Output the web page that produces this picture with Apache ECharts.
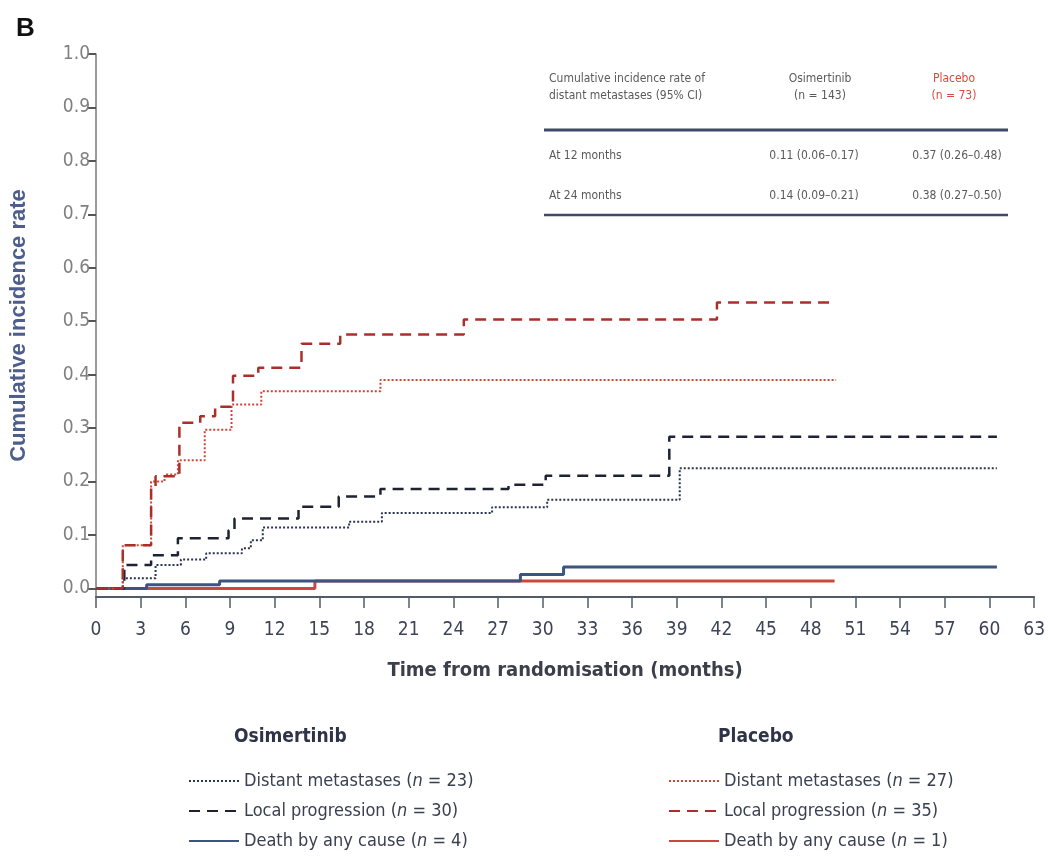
<!DOCTYPE html>
<html>
<head>
<meta charset="utf-8">
<script src="https://cdn.jsdelivr.net/npm/echarts@6/dist/echarts.min.js"></script>
<style>
html,body{margin:0;padding:0;background:#fff;}
#chart{width:1048px;height:859px;}
</style>
</head>
<body>
<div id="chart"></div>
<script>
// ---- Data ----
var xTicks = [0,3,6,9,12,15,18,21,24,27,30,33,36,39,42,45,48,51,54,57,60,63];
var yTicks = [0.0,0.1,0.2,0.3,0.4,0.5,0.6,0.7,0.8,0.9,1.0];
var yBottom = -0.016;   // axis line sits slightly below 0.0 in the reference

// Osimertinib
var osiDistT  = [0, 1.8, 4.0, 5.7, 7.4, 9.8, 10.4, 11.2, 17.0, 19.2, 26.6, 30.3, 39.2, 60.5];
var osiDistV  = [0, 0.019, 0.044, 0.054, 0.066, 0.075, 0.090, 0.114, 0.125, 0.141, 0.152, 0.166, 0.225, 0.225];
var osiLocalT = [0, 1.9, 3.7, 5.5, 8.9, 9.3, 13.6, 16.3, 19.1, 27.7, 30.2, 38.5, 60.5];
var osiLocalV = [0, 0.044, 0.062, 0.094, 0.109, 0.131, 0.153, 0.172, 0.186, 0.194, 0.211, 0.284, 0.284];
var osiDeathT = [0, 3.4, 8.3, 28.5, 31.4, 60.5];
var osiDeathV = [0, 0.007, 0.014, 0.026, 0.040, 0.040];

// Placebo
var plaDistT  = [0, 1.8, 3.7, 4.6, 5.5, 7.3, 9.1, 11.1, 19.1, 49.7];
var plaDistV  = [0, 0.081, 0.200, 0.213, 0.240, 0.297, 0.344, 0.369, 0.390, 0.390];
var plaLocalT = [0, 1.8, 3.7, 4.0, 5.6, 7.0, 8.0, 9.2, 10.9, 13.8, 16.4, 24.7, 41.7, 49.7];
var plaLocalV = [0, 0.081, 0.190, 0.210, 0.310, 0.322, 0.340, 0.398, 0.413, 0.458, 0.475, 0.503, 0.535, 0.535];
var plaDeathT = [0, 14.7, 49.6];
var plaDeathV = [0, 0.014, 0.014];

// Legend / table text
var legendLabels = {
  'Osi Distant': ['Distant metastases (', 'n', ' = 23)'],
  'Osi Local':   ['Local progression (', 'n', ' = 30)'],
  'Osi Death':   ['Death by any cause (', 'n', ' = 4)'],
  'Pla Distant': ['Distant metastases (', 'n', ' = 27)'],
  'Pla Local':   ['Local progression (', 'n', ' = 35)'],
  'Pla Death':   ['Death by any cause (', 'n', ' = 1)']
};
var tableHeader = ['Cumulative incidence rate of', 'distant metastases (95% CI)'];
var tableOsiHead = ['Osimertinib', '(n = 143)'];
var tablePlaHead = ['Placebo', '(n = 73)'];
var tableRows = [
  ['At 12 months', '0.11 (0.06–0.17)', '0.37 (0.26–0.48)'],
  ['At 24 months', '0.14 (0.09–0.21)', '0.38 (0.27–0.50)']
];

function pairs(t, v) { return t.map(function (x, i) { return [x, v[i]]; }); }

var NAVY_DOT = '#2b3552', NAVY_DASH = '#1d2333', NAVY_SOLID = '#3c5482';
var RED_DOT = '#cf4436', RED_DASH = '#a9302a', RED_SOLID = '#c9483c';
var NARROW = '"Liberation Sans Narrow", "DejaVu Sans Condensed", "Liberation Sans", sans-serif';

function mk(name, t, v, color, type, width) {
  return {
    name: name, type: 'line', step: 'end', showSymbol: false, symbol: 'none',
    data: pairs(t, v), itemStyle: { color: color },
    lineStyle: { color: color, type: type, width: width, cap: 'butt' },
    emphasis: { disabled: true }, animation: false
  };
}

var series = [
  mk('Pla Death', plaDeathT, plaDeathV, RED_SOLID, 'solid', 3),
  mk('Osi Death', osiDeathT, osiDeathV, NAVY_SOLID, 'solid', 3),
  mk('Osi Distant', osiDistT, osiDistV, NAVY_DOT, [2, 2], 2),
  mk('Osi Local', osiLocalT, osiLocalV, NAVY_DASH, [11, 7], 2.5),
  mk('Pla Distant', plaDistT, plaDistV, RED_DOT, [2, 2], 2),
  mk('Pla Local', plaLocalT, plaLocalV, RED_DASH, [11, 7], 2.5)
];

function legendFmt(name) {
  var p = legendLabels[name];
  return '{a|' + p[0] + '}{i|' + p[1] + '}{a|' + p[2] + '}';
}
var legendRich = {
  a: { fontFamily: NARROW, fontSize: 18, color: '#3a4052' },
  i: { fontFamily: NARROW, fontSize: 18, color: '#3a4052', fontStyle: 'italic' }
};
function legendCfg(left, names) {
  return {
    orient: 'vertical', left: left, top: 767, itemGap: 12, itemWidth: 50, itemHeight: 14,
    data: names.map(function (n) { return { name: n }; }),
    formatter: legendFmt, textStyle: { rich: legendRich, fontFamily: NARROW, fontSize: 18 },
    itemStyle: { opacity: 0 },
    selectedMode: false
  };
}

var tColor = '#5a5a5a';
var graphics = [
  { type: 'text', left: 16, top: 16, style: { text: 'B', font: 'bold 26px "Liberation Sans", Arial, sans-serif', fill: '#111' } },
  { type: 'text', left: 234, top: 728, style: { text: 'Osimertinib', font: 'bold 19px ' + NARROW, fill: '#2e3447' } },
  { type: 'text', left: 718, top: 728, style: { text: 'Placebo', font: 'bold 19px ' + NARROW, fill: '#2e3447' } },
  // table
  { type: 'text', left: 549, top: 70, style: { text: tableHeader.join('\n'), font: '12px ' + NARROW, fill: tColor, lineHeight: 17 } },
  { type: 'text', x: 820, y: 70, style: { text: tableOsiHead.join('\n'), font: '12px ' + NARROW, fill: tColor, lineHeight: 17, textAlign: 'center' } },
  { type: 'text', x: 954, y: 70, style: { text: tablePlaHead.join('\n'), font: '12px ' + NARROW, fill: '#d94a3e', lineHeight: 17, textAlign: 'center' } },
  { type: 'line', shape: { x1: 544, y1: 130, x2: 1008, y2: 130 }, style: { stroke: '#3e4a66', lineWidth: 3 } },
  { type: 'line', shape: { x1: 544, y1: 215, x2: 1008, y2: 215 }, style: { stroke: '#3e4a66', lineWidth: 2.5 } }
];
tableRows.forEach(function (r, i) {
  var y = 150 + i * 40;
  graphics.push({ type: 'text', left: 549, top: y, style: { text: r[0], font: '12px ' + NARROW, fill: tColor } });
  graphics.push({ type: 'text', x: 814, y: y, style: { text: r[1], font: '12px ' + NARROW, fill: tColor, textAlign: 'center' } });
  graphics.push({ type: 'text', x: 957, y: y, style: { text: r[2], font: '12px ' + NARROW, fill: tColor, textAlign: 'center' } });
});

var chart = echarts.init(document.getElementById('chart'), null, { renderer: 'canvas' });
chart.setOption({
  backgroundColor: '#ffffff',
  animation: false,
  grid: { left: 93, right: 12, top: 54, bottom: 262, containLabel: false },
  xAxis: {
    type: 'value', min: xTicks[0], max: xTicks[xTicks.length - 1], interval: 3,
    axisLine: { onZero: false, lineStyle: { color: '#555b66', width: 2 } },
    axisTick: { length: 11, lineStyle: { color: '#555b66', width: 1.5 } },
    axisLabel: { margin: 24, fontFamily: NARROW, fontSize: 19, color: '#3d4458' },
    splitLine: { show: false },
    name: 'Time from randomisation (months)', nameLocation: 'middle', nameGap: 64,
    nameTextStyle: { fontFamily: NARROW, fontWeight: 'bold', fontSize: 20, color: '#3a3f4a' }
  },
  yAxis: {
    type: 'value', min: yBottom, max: yTicks[yTicks.length - 1],
    axisLine: { show: true, lineStyle: { color: '#7a7a7a', width: 1.5 } },
    axisTick: { show: true, length: 8, customValues: yTicks, lineStyle: { color: '#555', width: 2 } },
    axisLabel: { margin: 6, fontFamily: NARROW, fontSize: 19, color: '#808080', customValues: yTicks,
      formatter: function (v) { return (Math.round(v * 10) / 10).toFixed(1); } },
    splitLine: { show: false },
    name: 'Cumulative incidence rate', nameLocation: 'middle', nameGap: 66, nameRotate: 90,
    nameTextStyle: { fontFamily: '"Liberation Sans", Arial, sans-serif', fontWeight: 'bold', fontSize: 22, color: '#4d5e8c' }
  },
  legend: [
    legendCfg(183, ['Osi Distant', 'Osi Local', 'Osi Death']),
    legendCfg(663, ['Pla Distant', 'Pla Local', 'Pla Death'])
  ],
  graphic: graphics,
  series: series
});
</script>
</body>
</html>
